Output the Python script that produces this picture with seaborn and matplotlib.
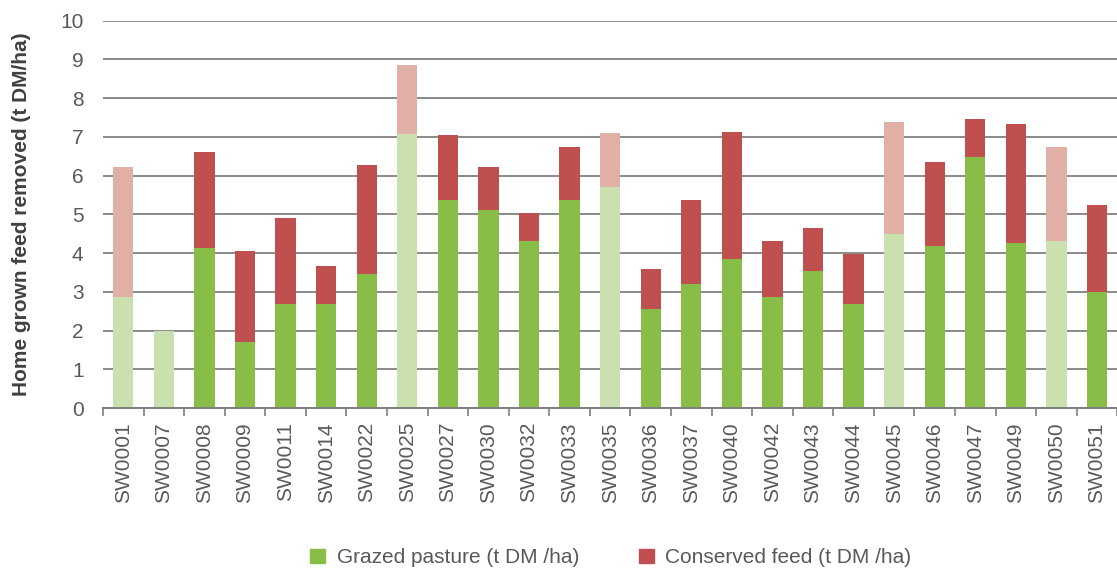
import pandas as pd
import matplotlib.pyplot as plt
import matplotlib.patches as mpatches
import seaborn as sns

farms = ['SW0001', 'SW0007', 'SW0008', 'SW0009', 'SW0011', 'SW0014', 'SW0022', 'SW0025',
         'SW0027', 'SW0030', 'SW0032', 'SW0033', 'SW0035', 'SW0036', 'SW0037', 'SW0040',
         'SW0042', 'SW0043', 'SW0044', 'SW0045', 'SW0046', 'SW0047', 'SW0049', 'SW0050',
         'SW0051']
grazed = [2.88, 2.00, 4.12, 1.70, 2.68, 2.68, 3.46, 7.08, 5.37, 5.11, 4.32, 5.37, 5.71,
          2.55, 3.21, 3.86, 2.88, 3.54, 2.69, 4.50, 4.19, 6.48, 4.26, 4.32, 3.00]
conserved = [3.34, 0.00, 2.48, 2.35, 2.22, 0.98, 2.82, 1.78, 1.69, 1.11, 0.71, 1.36, 1.39,
             1.04, 2.15, 3.26, 1.44, 1.10, 1.30, 2.89, 2.16, 0.98, 3.07, 2.42, 2.23]
faded = ['SW0001', 'SW0007', 'SW0025', 'SW0035', 'SW0045', 'SW0050']

df = pd.DataFrame({'farm': farms, 'grazed': grazed, 'conserved': conserved})
df['total'] = df['grazed'] + df['conserved']

GREEN, RED = '#88BE47', '#C0504F'
LGREEN, LRED = '#CBE0AF', '#E0AFA6'
green_pal = [LGREEN if f in faded else GREEN for f in farms]
red_pal = [LRED if f in faded else RED for f in farms]

plt.rcParams['font.family'] = ['Liberation Sans', 'DejaVu Sans']
fig = plt.figure(figsize=(11.17, 5.74), dpi=100)
ax = fig.add_axes([0.0922, 0.289, 0.908, 0.675])

sns.barplot(data=df, x='farm', y='total', hue='farm', palette=red_pal, legend=False,
            width=0.5, saturation=1, ax=ax, zorder=3)
sns.barplot(data=df, x='farm', y='grazed', hue='farm', palette=green_pal, legend=False,
            width=0.5, saturation=1, ax=ax, zorder=3)

ax.set_ylim(0, 10)
ax.set_xlim(-0.5, len(farms) - 0.5)
ax.set_yticks(range(0, 11))
ax.yaxis.grid(True, color='#8a8a8a', linewidth=1.4, zorder=0)
ax.set_axisbelow(True)
for s in ['top', 'right', 'left']:
    ax.spines[s].set_visible(False)
ax.spines['bottom'].set_color('#7f7f7f')
ax.spines['bottom'].set_linewidth(1.4)
ax.spines['bottom'].set_zorder(4)

ax.set_xticks([i - 0.5 for i in range(len(farms) + 1)], minor=True)
ax.tick_params(axis='x', which='minor', length=6, width=1.2, color='#7f7f7f')
ax.tick_params(axis='x', which='major', length=0, pad=10, labelsize=15,
               labelcolor='#595959', rotation=90)
ax.tick_params(axis='y', length=0, pad=14, labelsize=15, labelcolor='#595959')

ax.set_xlabel(None)
ax.set_ylabel('Home grown feed removed (t DM/ha)', fontsize=15, fontweight='bold',
              color='#404040', labelpad=21)

handles = [mpatches.Patch(color=GREEN, label='Grazed pasture (t DM /ha)'),
           mpatches.Patch(color=RED, label='Conserved feed (t DM /ha)')]
fig.legend(handles=handles, loc='center', bbox_to_anchor=(0.547, 0.028), ncol=2,
           frameon=False, fontsize=15, labelcolor='#595959', handlelength=0.7,
           handleheight=0.7, columnspacing=2.9, handletextpad=0.55)

plt.savefig('out.png', dpi=100)
